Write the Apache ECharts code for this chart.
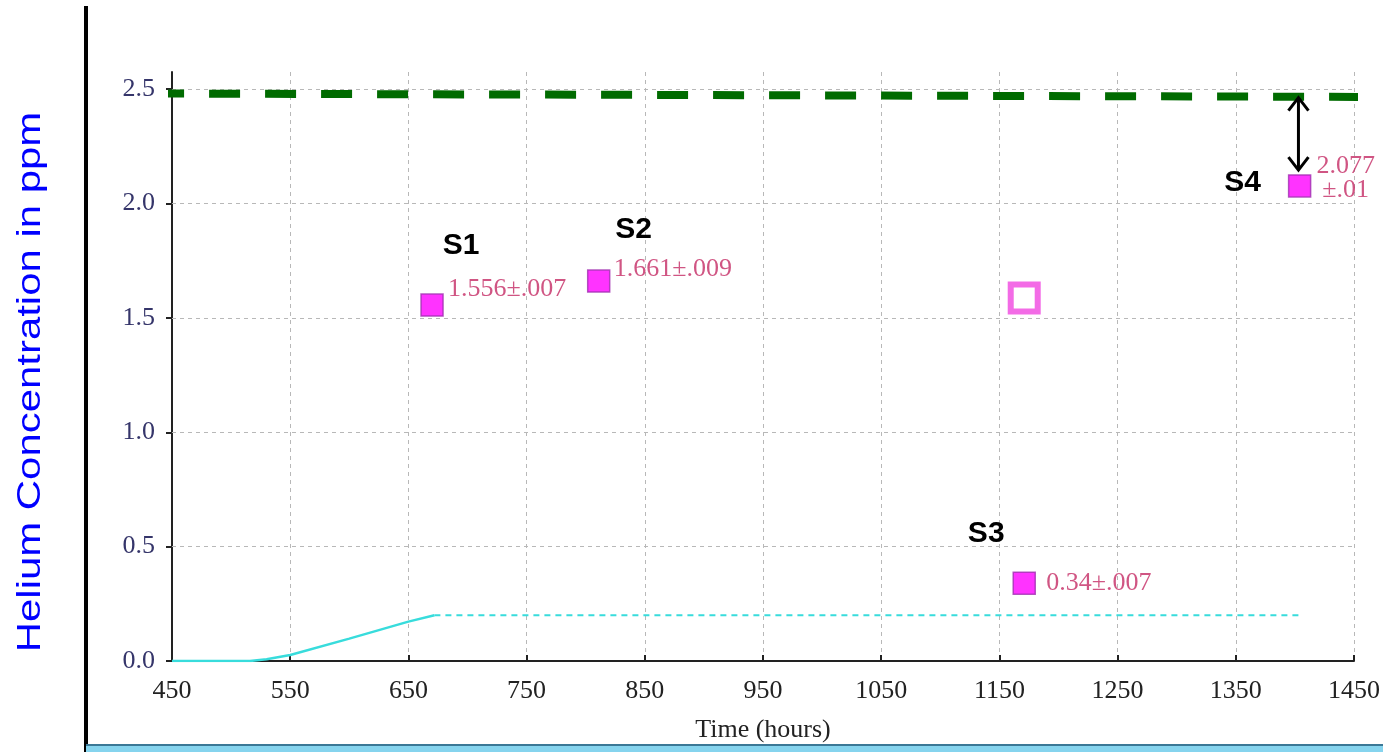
<!DOCTYPE html>
<html>
<head>
<meta charset="utf-8">
<script src="https://cdn.jsdelivr.net/npm/echarts@6/dist/echarts.min.js"></script>
<style>html,body{margin:0;padding:0;background:#fff;overflow:hidden;}#c{width:1383px;height:752px;}</style>
</head>
<body>
<div id="c"></div>
<script>
// ---- data ----
var xTicks = [450, 550, 650, 750, 850, 950, 1050, 1150, 1250, 1350, 1450];
var yTicks = [0.0, 0.5, 1.0, 1.5, 2.0, 2.5];
var sampleNames = ['S1', 'S2', 'S3', 'S4'];
var samplePoints = [[670, 1.556], [811, 1.661], [1171, 0.34], [1404, 2.077]];
var sampleLabels = ['1.556\u00b1.007', '1.661\u00b1.009', '0.34\u00b1.007', '2.077\n\u00b1.01'];
var hollowPoint = [[1171, 1.587]];
var greenLine = [[434, 2.481], [1456, 2.466]];
var cyanSolid = [[450, 0], [516, 0], [530, 0.008], [550, 0.026], [600, 0.098], [650, 0.172], [672, 0.2]];
var cyanDashed = [[672, 0.2], [1403, 0.2]];
var arrowSpan = [[1403, 2.463, 2.146]];

// ---- styling (not data) ----
var nameOffsets = [[29, -59], [35, -51], [-38, -49], [-57, -3]];
var valueOffsets = [[16, -16], [15, -12], [22, 0], [46, -8]];
var valueAligns = ['left', 'left', 'left', 'center'];

var serif = '"Liberation Serif", "DejaVu Serif", serif';
var sans = '"Liberation Sans", Arial, sans-serif';

var sampleData = samplePoints.map(function (p, i) {
  return {
    value: p,
    label: {
      show: true, position: 'inside', formatter: sampleLabels[i],
      offset: valueOffsets[i], align: valueAligns[i], verticalAlign: 'middle',
      color: '#c42a64', fontFamily: serif, fontSize: 26, lineHeight: 24
    }
  };
});
var gridLineStyle = { color: '#b8b8b8', width: 1, type: [4, 4] };

var chart = echarts.init(document.getElementById('c'));
chart.setOption({
  animation: false,
  backgroundColor: '#fff',
  grid: { left: 172, right: 28, top: 72, bottom: 91, containLabel: false },
  xAxis: {
    type: 'value', min: xTicks[0], max: xTicks[xTicks.length - 1], interval: 100,
    name: 'Time (hours)', nameLocation: 'middle', nameGap: 56,
    nameTextStyle: { fontFamily: serif, fontSize: 26, color: '#222' },
    axisLine: { show: true, lineStyle: { color: '#222', width: 2 } },
    axisTick: { show: true, inside: true, length: 6, lineStyle: { color: '#222', width: 2 } },
    axisLabel: { fontFamily: serif, fontSize: 26, color: '#222', margin: 17, formatter: function (v) { return String(v); } },
    splitLine: { show: true, lineStyle: gridLineStyle }
  },
  yAxis: {
    type: 'value', min: 0, max: 2.575, interval: 0.5,
    axisLine: { show: true, lineStyle: { color: '#222', width: 2 } },
    axisTick: { show: true, length: 6, lineStyle: { color: '#222', width: 2 } },
    axisLabel: {
      fontFamily: serif, fontSize: 26, color: '#35356a', margin: 17, showMaxLabel: false,
      formatter: function (v) { return yTicks.indexOf(v) >= 0 ? v.toFixed(1) : ''; }
    },
    splitLine: { show: false }
  },
  graphic: [
    { type: 'rect', shape: { x: 84, y: 6, width: 4, height: 746 }, style: { fill: '#000' }, z: 100 },
    { type: 'rect', shape: { x: 86, y: 745, width: 1297, height: 7 }, style: { fill: '#86d4ee' }, z: 100 },
    { type: 'rect', shape: { x: 86, y: 744, width: 1297, height: 2 }, style: { fill: '#3b7896' }, z: 100 },
    {
      type: 'text', x: 31, y: 382, rotation: Math.PI / 2, scaleX: 1.27,
      style: { text: 'Helium Concentration in ppm', fill: '#0000ff', font: '33px ' + sans, align: 'center', verticalAlign: 'middle' },
      z: 100
    }
  ],
  series: [
    {
      type: 'line', data: [], symbol: 'none', z: 1,
      markLine: {
        silent: true, symbol: 'none', label: { show: false },
        lineStyle: gridLineStyle,
        data: yTicks.slice(1).map(function (v) { return { yAxis: v }; })
      }
    },
    {
      type: 'line', data: greenLine, symbol: 'none', clip: false, z: 5,
      lineStyle: { color: '#006b00', width: 8, type: [31, 25] }
    },
    {
      type: 'line', data: cyanSolid, symbol: 'none', z: 4,
      lineStyle: { color: '#38dcdc', width: 2.5 }
    },
    {
      type: 'line', data: cyanDashed, symbol: 'none', z: 4,
      lineStyle: { color: '#38dcdc', width: 2, type: [6, 5] }
    },
    {
      type: 'custom', data: arrowSpan, z: 6,
      renderItem: function (params, api) {
        var top = api.coord([api.value(0), api.value(1)]);
        var bot = api.coord([api.value(0), api.value(2)]);
        var w = 10, h = 13;
        var st = { stroke: '#000', lineWidth: 3, fill: null };
        return {
          type: 'group', children: [
            { type: 'line', shape: { x1: top[0], y1: top[1] + 2, x2: bot[0], y2: bot[1] - 2 }, style: st },
            { type: 'polyline', shape: { points: [[top[0] - w, top[1] + h], [top[0], top[1]], [top[0] + w, top[1] + h]] }, style: st },
            { type: 'polyline', shape: { points: [[bot[0] - w, bot[1] - h], [bot[0], bot[1]], [bot[0] + w, bot[1] - h]] }, style: st }
          ]
        };
      }
    },
    {
      type: 'scatter', data: hollowPoint, symbol: 'rect', symbolSize: 27, z: 7,
      itemStyle: { color: 'rgba(255,255,255,0)', borderColor: '#f046e0', borderWidth: 6 }
    },
    {
      type: 'scatter', data: sampleData, symbol: 'rect', symbolSize: 22, z: 8,
      itemStyle: { color: '#ff00ff', borderColor: '#a030b0', borderWidth: 1.5 }
    },
    {
      type: 'custom', data: samplePoints, z: 9,
      renderItem: function (params, api) {
        var p = api.coord([api.value(0), api.value(1)]);
        var off = nameOffsets[params.dataIndex];
        return {
          type: 'text', x: p[0] + off[0], y: p[1] + off[1],
          style: {
            text: sampleNames[params.dataIndex], fill: '#000',
            font: 'bold 30px ' + sans, align: 'center', verticalAlign: 'middle'
          }
        };
      }
    }
  ]
});
</script>
</body>
</html>
